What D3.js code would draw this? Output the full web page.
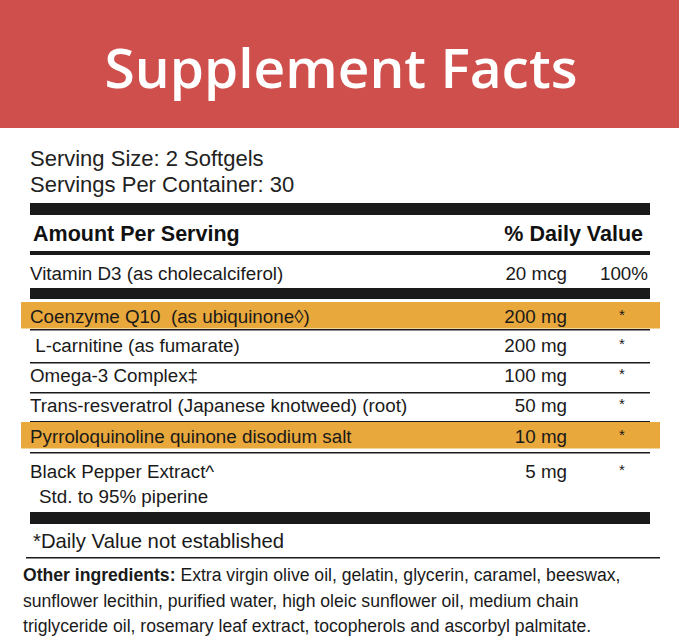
<!DOCTYPE html>
<html><head><meta charset="utf-8">
<script src="https://cdn.jsdelivr.net/npm/d3@7"></script>
<style>body{margin:0;background:#fff}</style>
</head><body>
<script>
// label data
var title = "Supplement Facts";
var serving = ["Serving Size: 2 Softgels", "Servings Per Container: 30"];
var ingredients = [
  {name: "Vitamin D3 (as cholecalciferol)", amount: "20 mcg", dv: "100%", hl: false},
  {name: "Coenzyme Q10  (as ubiquinone\u25CA)", amount: "200 mg", dv: "*", hl: true},
  {name: " L-carnitine (as fumarate)", amount: "200 mg", dv: "*", hl: false},
  {name: "Omega-3 Complex\u2021", amount: "100 mg", dv: "*", hl: false},
  {name: "Trans-resveratrol (Japanese knotweed) (root)", amount: "50 mg", dv: "*", hl: false},
  {name: "Pyrroloquinoline quinone disodium salt", amount: "10 mg", dv: "*", hl: true},
  {name: "Black Pepper Extract^", amount: "5 mg", dv: "*", hl: false, sub: "Std. to 95% piperine"}
];
var rowY = [280, 323, 352, 382, 412, 443, 478];
var rowLines = [329, 362, 392, 421, 452];
var other = ["Extra virgin olive oil, gelatin, glycerin, caramel, beeswax,",
  "sunflower lecithin, purified water, high oleic sunflower oil, medium chain",
  "triglyceride oil, rosemary leaf extract, tocopherols and ascorbyl palmitate."];

var W = 679, H = 640, font = "Liberation Sans, Arial, sans-serif";
var svg = d3.select("body").append("svg").attr("width", W).attr("height", H)
  .style("font-family", font);

svg.append("rect").attr("width", W).attr("height", 128).attr("fill", "#cf4f4c");
svg.append("text").attr("x", 341).attr("y", 88).attr("text-anchor", "middle")
  .attr("fill", "#fff").attr("font-size", 55).attr("font-weight", 600)
  .style("font-family", "Open Sans, sans-serif").text(title);

svg.selectAll(".srv").data(serving).enter().append("text")
  .attr("x", 30).attr("y", function(d, i) { return 166 + i * 26; })
  .attr("font-size", 22).attr("fill", "#222").text(function(d) { return d; });

function bar(y, h, x0, x1) {
  svg.append("rect").attr("x", x0 || 30).attr("y", y).attr("width", (x1 || 650) - (x0 || 30))
    .attr("height", h).attr("fill", "#1a1a1a");
}
bar(203, 12); bar(251, 4); bar(288, 11); bar(512, 12);
rowLines.forEach(function(y) { bar(y, 1.5); });
bar(557, 1.5, 26, 660);

svg.append("text").attr("x", 33).attr("y", 241).attr("font-size", 21.5).attr("font-weight", "bold")
  .attr("fill", "#111").text("Amount Per Serving");
svg.append("text").attr("x", 643).attr("y", 241).attr("text-anchor", "end").attr("font-size", 21.5)
  .attr("font-weight", "bold").attr("fill", "#111").text("% Daily Value");

var g = svg.selectAll(".row").data(ingredients).enter().append("g")
  .attr("transform", function(d, i) { return "translate(0," + rowY[i] + ")"; });
g.filter(function(d) { return d.hl; }).append("rect")
  .attr("x", 21).attr("y", -21).attr("width", 639).attr("height", 26.5).attr("fill", "#e9a83c");
g.append("text").attr("x", 30).attr("font-size", 18.8).attr("fill", "#1a1a1a")
  .attr("xml:space", "preserve").text(function(d) { return d.name; });
g.append("text").attr("x", 567).attr("text-anchor", "end").attr("font-size", 18.8)
  .attr("fill", "#1a1a1a").text(function(d) { return d.amount; });
g.append("text").attr("x", function(d) { return d.dv === "*" ? 622 : 648; })
  .attr("text-anchor", function(d) { return d.dv === "*" ? "middle" : "end"; })
  .attr("y", function(d) { return d.dv === "*" ? -3 : 0; })
  .attr("font-size", function(d) { return d.dv === "*" ? 15 : 18.8; })
  .attr("fill", "#1a1a1a").text(function(d) { return d.dv; });
g.filter(function(d) { return d.sub; }).append("text").attr("x", 39).attr("y", 25)
  .attr("font-size", 18.8).attr("fill", "#1a1a1a").text(function(d) { return d.sub; });

svg.append("text").attr("x", 33).attr("y", 548).attr("font-size", 20.3).attr("fill", "#1a1a1a")
  .text("*Daily Value not established");

svg.selectAll(".oth").data(other).enter().append("text")
  .attr("x", 23).attr("y", function(d, i) { return 581 + i * 25.5; })
  .attr("font-size", 17.6).attr("fill", "#1a1a1a")
  .each(function(d, i) {
    var t = d3.select(this);
    if (i === 0) t.append("tspan").attr("font-weight", "bold").text("Other ingredients: ");
    t.append("tspan").text(d);
  });
</script>
</body></html>
